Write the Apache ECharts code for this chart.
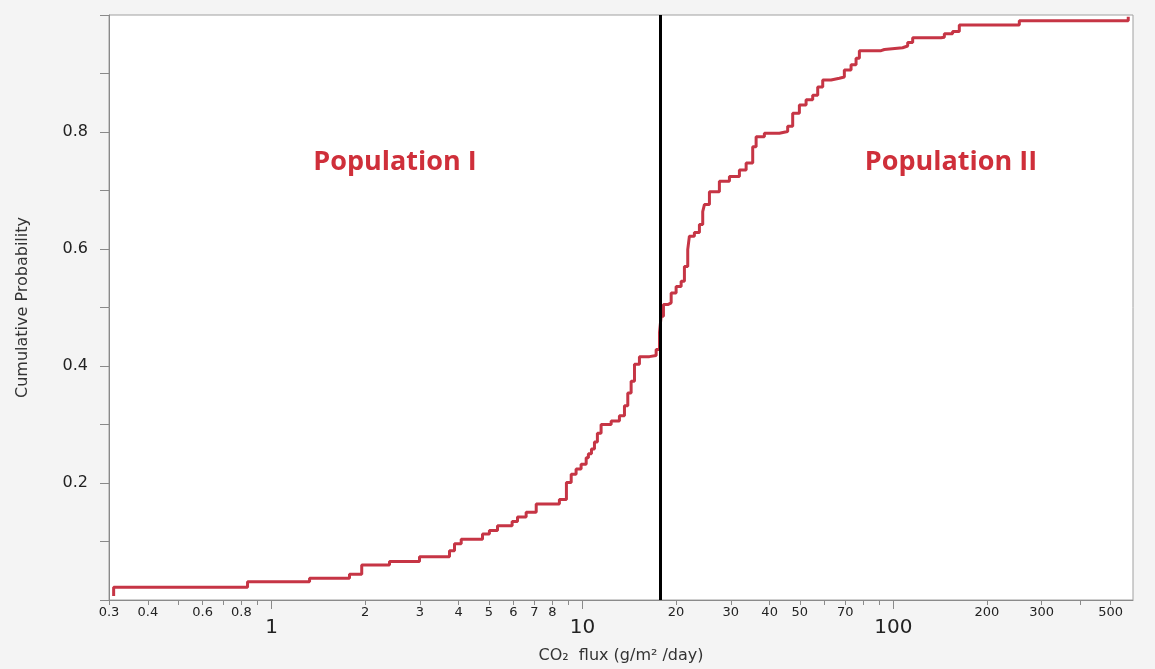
<!DOCTYPE html>
<html>
<head>
<meta charset="utf-8">
<script src="https://cdn.jsdelivr.net/npm/echarts@6/dist/echarts.min.js"></script>
<style>
html,body{margin:0;padding:0;background:#f4f4f4;}
#chart{width:1155px;height:669px;}
</style>
</head>
<body>
<div id="chart"></div>
<script>
// CO2 flux values (g/m2/day) where the empirical CDF steps
const fluxValues = [0.3105, 0.3105, 0.837, 1.325, 1.781, 1.95, 2.395, 2.991, 3.735, 3.876, 4.074, 4.77, 5.02, 5.33, 5.94, 6.18, 6.59, 7.10, 8.43, 8.88, 9.20, 9.54, 9.90, 10.28, 10.45, 10.69, 10.93, 11.17, 11.48, 12.37, 13.15, 13.65, 13.99, 14.34, 14.70, 15.25, 16.42, 17.26, 17.69, 17.91, 18.22, 18.81, 19.29, 20.01, 20.77, 21.28, 21.81, 22.08, 22.91, 23.78, 24.37, 24.68, 25.61, 27.57, 29.70, 31.98, 33.61, 35.29, 36.19, 38.47, 42.99, 45.72, 47.45, 49.86, 52.40, 55.03, 57.11, 59.27, 63.05, 67.05, 69.56, 73.11, 75.87, 77.75, 91.3, 93.6, 107.1, 111.2, 115.4, 142.3, 145.9, 155.1, 163.0, 254.2, 569.6];
// Cumulative probability after each step
const cumProb = [0.007, 0.022, 0.031, 0.037, 0.044, 0.060, 0.066, 0.074, 0.084, 0.096, 0.104, 0.113, 0.119, 0.127, 0.134, 0.142, 0.150, 0.164, 0.172, 0.201, 0.215, 0.224, 0.232, 0.243, 0.250, 0.258, 0.270, 0.285, 0.300, 0.306, 0.315, 0.332, 0.354, 0.374, 0.403, 0.416, 0.418, 0.428, 0.457, 0.485, 0.505, 0.508, 0.525, 0.536, 0.545, 0.570, 0.599, 0.622, 0.628, 0.642, 0.664, 0.676, 0.698, 0.716, 0.724, 0.735, 0.747, 0.775, 0.792, 0.798, 0.801, 0.810, 0.832, 0.846, 0.855, 0.863, 0.877, 0.889, 0.892, 0.894, 0.906, 0.915, 0.926, 0.939, 0.941, 0.944, 0.947, 0.953, 0.961, 0.962, 0.968, 0.972, 0.983, 0.990, 0.997];
// Threshold separating the two populations
const thresholdFlux = 17.8;
// Axis ticks and labels
const xMinorTicks = [0.3, 0.4, 0.5, 0.6, 0.7, 0.8, 0.9, 2, 3, 4, 5, 6, 7, 8, 9, 20, 30, 40, 50, 60, 70, 80, 90, 200, 300, 400, 500];
const xMinorLabels = [0.3, 0.4, 0.6, 0.8, 2, 3, 4, 5, 6, 7, 8, 20, 30, 40, 50, 70, 200, 300, 500];
const xMajorTicks = [1, 10, 100];
const yLabels = [0.2, 0.4, 0.6, 0.8];
const populationLabels = ['Population I', 'Population II'];

const seriesData = fluxValues.map((v, i) => [v, cumProb[i]]);

const chart = echarts.init(document.getElementById('chart'));
const commonX = {
  type: 'log', logBase: 10, min: 0.3, max: 590,
  gridIndex: 0, position: 'bottom', splitLine: {show: false}
};
chart.setOption({
  backgroundColor: '#f4f4f4',
  animation: false,
  grid: {left: 109, right: 22, top: 15, bottom: 69, show: true, backgroundColor: '#ffffff', borderColor: '#a0a0a0', borderWidth: 1},
  xAxis: [
    Object.assign({}, commonX, {
      axisLine: {show: true, lineStyle: {color: '#8a8a8a', width: 1}},
      axisTick: {show: true, length: 5, customValues: xMinorTicks, lineStyle: {color: '#8a8a8a'}},
      axisLabel: {show: true, customValues: xMinorLabels, margin: 6, color: '#222', fontFamily: 'DejaVu Sans', fontSize: 13,
        formatter: v => String(v)},
      name: 'CO\u2082  flux (g/m\u00B2 /day)', nameLocation: 'middle', nameGap: 48,
      nameTextStyle: {color: '#333', fontFamily: 'DejaVu Sans', fontSize: 16}
    }),
    Object.assign({}, commonX, {
      axisLine: {show: false},
      axisTick: {show: true, length: 9, customValues: xMajorTicks, lineStyle: {color: '#8a8a8a'}},
      axisLabel: {show: true, customValues: xMajorTicks, margin: 18, color: '#222', fontFamily: 'DejaVu Sans', fontSize: 20,
        formatter: v => String(v)}
    })
  ],
  yAxis: {
    type: 'value', min: 0, max: 1, interval: 0.1,
    splitLine: {show: false},
    axisLine: {show: true, lineStyle: {color: '#8a8a8a'}},
    axisTick: {show: true, length: 9, lineStyle: {color: '#8a8a8a'}},
    axisLabel: {color: '#222', fontFamily: 'DejaVu Sans', fontSize: 16, margin: 21,
      formatter: v => {
        const r = Math.round(v * 10) / 10;
        return yLabels.indexOf(r) >= 0 ? r.toFixed(1) : '';
      }},
    name: 'Cumulative Probability', nameLocation: 'middle', nameGap: 78,
    nameTextStyle: {color: '#333', fontFamily: 'DejaVu Sans', fontSize: 16}
  },
  series: [{
    type: 'line', xAxisIndex: 0, yAxisIndex: 0,
    data: seriesData, step: 'end', showSymbol: false, symbol: 'none',
    lineStyle: {color: '#c63545', width: 3},
    markLine: {
      silent: true, symbol: 'none', label: {show: false},
      lineStyle: {color: '#000', width: 3, type: 'solid'},
      data: [{xAxis: thresholdFlux}]
    }
  }],
  graphic: [
    {type: 'text', x: 395, y: 162, style: {text: populationLabels[0], fill: '#cf2f3a', font: 'bold 27px "Open Sans"', textAlign: 'center', textVerticalAlign: 'middle'}},
    {type: 'text', x: 951, y: 162, style: {text: populationLabels[1], fill: '#cf2f3a', font: 'bold 27px "Open Sans"', textAlign: 'center', textVerticalAlign: 'middle'}}
  ]
});
</script>
</body>
</html>
